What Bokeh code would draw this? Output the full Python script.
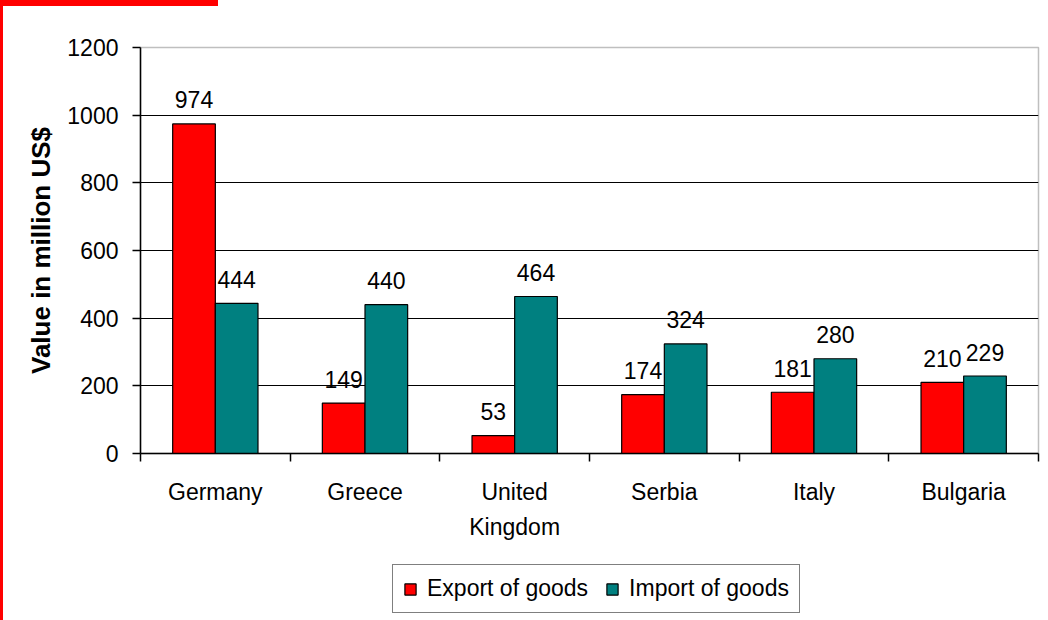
from bokeh.plotting import figure
from bokeh.layouts import column
from bokeh.models import FixedTicker, Legend, LegendItem, Range1d
from bokeh.core.properties import value
from bokeh.embed import file_html
from bokeh.resources import INLINE

countries = ["Germany", "Greece", "United Kingdom", "Serbia", "Italy", "Bulgaria"]
country_labels = ["Germany", "Greece", "United\nKingdom", "Serbia", "Italy", "Bulgaria"]
export_goods = [974, 149, 53, 174, 181, 210]
import_goods = [444, 440, 464, 324, 280, 229]
series_names = ["Export of goods", "Import of goods"]
y_ticks = [0, 200, 400, 600, 800, 1000, 1200]
grid_ticks = [200, 400, 600, 800, 1000]

FONT = "Liberation Sans"
FS = "23px"
BAR_W = 0.285
RED = "#FF0000"
TEAL = "#008080"

n = len(countries)
centers = [i + 0.5 for i in range(n)]
boundaries = list(range(n + 1))
exp_x = [c - BAR_W / 2 for c in centers]
imp_x = [c + BAR_W / 2 for c in centers]

p = figure(width=1040, height=560, output_backend="svg", toolbar_location=None,
           x_range=Range1d(0, n), y_range=Range1d(0, 1200),
           min_border_left=140, min_border_right=2, min_border_top=47,
           min_border_bottom=107)
p.background_fill_color = "white"
p.border_fill_color = None
p.outline_line_color = "#BFBFBF"
p.outline_line_width = 1.5

# grid
p.xgrid.visible = False
p.ygrid[0].ticker = FixedTicker(ticks=grid_ticks)
p.ygrid.grid_line_color = "black"
p.ygrid.grid_line_width = 1

# y axis
p.yaxis.ticker = FixedTicker(ticks=y_ticks)
p.yaxis.axis_line_color = "black"
p.yaxis.axis_line_width = 1.5
p.yaxis.major_tick_line_color = "black"
p.yaxis.major_tick_line_width = 1.5
p.yaxis.major_tick_out = 8
p.yaxis.major_tick_in = 0
p.yaxis.minor_tick_line_color = None
p.yaxis.major_label_standoff = 14
p.yaxis.major_label_text_font = FONT
p.yaxis.major_label_text_font_size = FS
p.yaxis.major_label_text_color = "black"
p.yaxis.axis_label = "Value in million US$"
p.yaxis.axis_label_text_font = FONT
p.yaxis.axis_label_text_font_size = "26px"
p.yaxis.axis_label_text_font_style = "bold"
p.yaxis.axis_label_text_color = "black"
p.yaxis.axis_label_standoff = 8

# x axis
p.xaxis.ticker = FixedTicker(ticks=centers, minor_ticks=boundaries)
p.xaxis.major_label_overrides = {c: lab for c, lab in zip(centers, country_labels)}
p.xaxis.axis_line_color = "black"
p.xaxis.axis_line_width = 1.5
p.xaxis.major_tick_line_color = None
p.xaxis.major_tick_out = 0
p.xaxis.major_tick_in = 0
p.xaxis.minor_tick_line_color = "black"
p.xaxis.minor_tick_line_width = 1.5
p.xaxis.minor_tick_out = 8
p.xaxis.minor_tick_in = 0
p.xaxis.major_label_standoff = 17
p.xaxis.major_label_text_font = FONT
p.xaxis.major_label_text_font_size = FS
p.xaxis.major_label_text_color = "black"
p.xaxis.major_label_text_line_height = 1.35

# bars
p.vbar(x=exp_x, top=export_goods, width=BAR_W, bottom=0,
       fill_color=RED, line_color="black", line_width=1.2)
p.vbar(x=imp_x, top=import_goods, width=BAR_W, bottom=0,
       fill_color=TEAL, line_color="black", line_width=1.2)

# value labels
p.text(x=exp_x, y=export_goods, text=[str(v) for v in export_goods],
       text_font=value(FONT), text_font_size=FS, text_align="center",
       text_baseline="alphabetic", y_offset=-24, text_color="black")
p.text(x=imp_x, y=import_goods, text=[str(v) for v in import_goods],
       text_font=value(FONT), text_font_size=FS, text_align="center",
       text_baseline="alphabetic", y_offset=-24, text_color="black")

# legend strip (separate small figure below the chart; its frame aligns with the chart's)
lg = figure(width=1040, height=60, output_backend="svg", toolbar_location=None,
            x_range=Range1d(0, 1), y_range=Range1d(0, 1),
            x_axis_location=None, y_axis_location=None, min_border=0)
lg.grid.visible = False
lg.outline_line_color = None
lg.background_fill_color = None
lg.border_fill_color = None
# swatch renderers: tiny bars hidden behind the opaque legend box, used only for the keys
k_exp = lg.vbar(x=[0.5], bottom=[0.45], top=[0.55], width=0.005,
                fill_color=RED, line_color="black", line_width=1.2)
k_imp = lg.vbar(x=[0.5], bottom=[0.45], top=[0.55], width=0.005,
                fill_color=TEAL, line_color="black", line_width=1.2)

legend = Legend(items=[LegendItem(label=series_names[0], renderers=[k_exp]),
                       LegendItem(label=series_names[1], renderers=[k_imp])],
                location=(252, 7), orientation="horizontal")
legend.label_text_font = FONT
legend.label_text_font_size = FS
legend.label_text_color = "black"
legend.glyph_width = 14
legend.glyph_height = 14
legend.label_standoff = 10
legend.spacing = 17
legend.padding = 10
legend.margin = 0
legend.border_line_color = "black"
legend.border_line_width = 1.5
legend.background_fill_color = "white"
legend.background_fill_alpha = 1
lg.add_layout(legend, "center")

page = column(p, lg, spacing=0)
page.styles = {
    "background-color": "white",
    "background-image": "linear-gradient(#FF0000, #FF0000), linear-gradient(#FF0000, #FF0000)",
    "background-size": "218px 6px, 3px 100%",
    "background-position": "0 0, 0 0",
    "background-repeat": "no-repeat",
}

open("out.html", "w").write(file_html(page, INLINE))
